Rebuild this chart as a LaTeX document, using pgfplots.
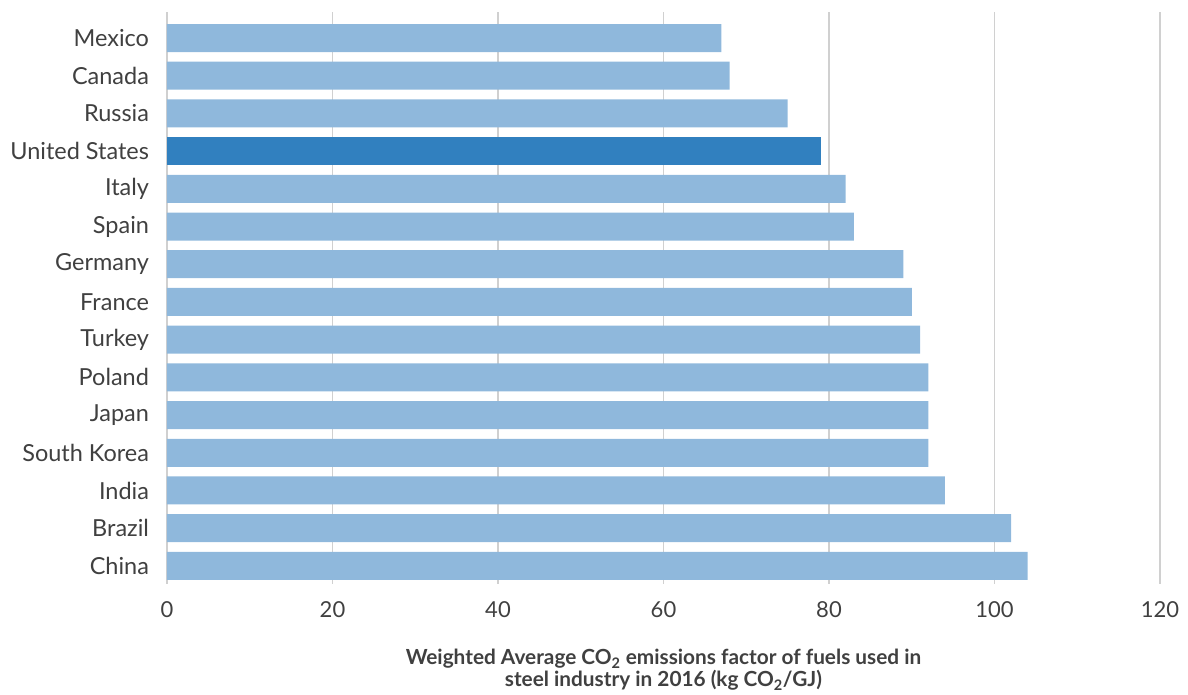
\documentclass[border=0pt]{standalone}
\usepackage{pgfplots}
\pgfplotsset{compat=1.18}
\usepackage{fontspec}
\setmainfont{Lato}
\definecolor{lightbar}{HTML}{8FB8DC}
\definecolor{darkbar}{HTML}{3180BF}
\definecolor{gridc}{HTML}{D0D0D0}
\definecolor{txt}{HTML}{404040}
\begin{document}
\begin{tikzpicture}
\begin{axis}[
  scale only axis,
  width=744.75pt, height=429pt,
  xbar, bar width=21pt, /pgf/bar shift=0pt,
  xmin=0, xmax=120,
  ymin=-0.48, ymax=14.69,
  xtick={0,20,...,120},
  ytick={0,...,14},
  yticklabels={China,Brazil,India,South Korea,Japan,Poland,Turkey,France,Germany,Spain,Italy,United States,Russia,Canada,Mexico},
  axis line style={draw=none},
  major tick length=0pt,
  xmajorgrids, grid style={gridc, line width=1.1pt},
  tick label style={text=txt},
  xticklabel style={font=\fontsize{16.5}{19}\selectfont, yshift=-10pt},
  yticklabel style={font=\fontsize{17.6}{20}\selectfont, xshift=-10pt},
  /pgf/number format/assume math mode=true,
  xlabel={Weighted Average CO\textsubscript{2} emissions factor of fuels used in\\steel industry in 2016 (kg CO\textsubscript{2}/GJ)},
  xlabel style={at={(axis description cs:0.5,0)}, anchor=north, yshift=-45pt, align=center, font=\bfseries\fontsize{15.6}{17}\selectfont, text=txt},
  clip=false,
]
\addplot[fill=lightbar, draw=none] coordinates {
 (104,0) (102,1) (94,2) (92,3) (92,4) (92,5) (91,6) (90,7) (89,8) (83,9) (82,10) (75,12) (68,13) (67,14)};
\addplot[fill=darkbar, draw=none] coordinates {(79,11)};
\end{axis}
\pgfresetboundingbox
\path[use as bounding box] (-125.25pt,-83.25pt) rectangle (765.75pt,438pt);
\end{tikzpicture}
\end{document}
